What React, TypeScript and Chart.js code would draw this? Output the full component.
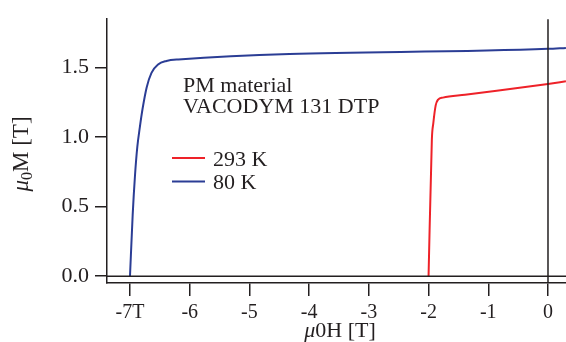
import React, { useEffect, useRef } from "react";
import { Chart, registerables } from "chart.js";

Chart.register(...registerables);

// ---- data ----
const field80 = [-7.0, -6.955, -6.916, -6.877, -6.835, -6.79, -6.72, -6.64, -6.53, -6.39, -6.19, 0.0, 0.3];
const magnet80 = [0.0, 0.44, 0.725, 0.93, 1.07, 1.2, 1.357, 1.46, 1.52, 1.545, 1.556, 1.632, 1.639];
const field293 = [-2.0, -1.945, -1.92, -1.88, -1.84, -1.76, -1.39, 0.0, 0.3];
const magnet293 = [0.0, 0.98, 1.1, 1.228, 1.268, 1.282, 1.303, 1.38, 1.399];

const xTickValues = [-7, -6, -5, -4, -3, -2, -1, 0];
const xTickLabels = ["-7T", "-6", "-5", "-4", "-3", "-2", "-1", "0"];
const yTickValues = [0, 0.5, 1.0, 1.5];
const yTickLabels = ["0.0", "0.5", "1.0", "1.5"];

const seriesNames = ["293 K", "80 K"];
const seriesColors = ["#ee2229", "#2b3d95"];
const annotationLines = ["PM material", "VACODYM 131 DTP"];

const AXIS = "#231f20";
const SERIF = "'Liberation Serif', 'Times New Roman', serif";

type Run = { text: string; font: string; dy?: number };

function drawRuns(ctx: CanvasRenderingContext2D, runs: Run[], cx: number, baseline: number) {
  let total = 0;
  for (const r of runs) {
    ctx.font = r.font;
    total += ctx.measureText(r.text).width;
  }
  let x = cx - total / 2;
  for (const r of runs) {
    ctx.font = r.font;
    ctx.fillText(r.text, x, baseline + (r.dy || 0));
    x += ctx.measureText(r.text).width;
  }
}

const decorations = {
  id: "decorations",
  afterDatasetsDraw(chart: any) {
    const { ctx, chartArea, scales } = chart;
    const xs = scales.x;
    const ys = scales.y;
    ctx.save();
    // zero lines
    ctx.strokeStyle = AXIS;
    ctx.lineWidth = 1.5;
    const y0 = ys.getPixelForValue(0);
    ctx.beginPath();
    ctx.moveTo(chartArea.left, y0);
    ctx.lineTo(chartArea.right, y0);
    ctx.stroke();
    const x0 = xs.getPixelForValue(0);
    ctx.beginPath();
    ctx.moveTo(x0, chartArea.top);
    ctx.lineTo(x0, chartArea.bottom);
    ctx.stroke();

    ctx.fillStyle = AXIS;
    ctx.textAlign = "left";
    ctx.textBaseline = "alphabetic";

    // annotation text
    ctx.font = `22px ${SERIF}`;
    annotationLines.forEach((t, i) => ctx.fillText(t, 183, 92 + i * 21));

    // legend
    chart.data.datasets.forEach((ds: any, i: number) => {
      const yy = 158 + i * 23.5;
      ctx.strokeStyle = ds.borderColor;
      ctx.lineWidth = 2;
      ctx.beginPath();
      ctx.moveTo(172, yy);
      ctx.lineTo(205, yy);
      ctx.stroke();
      ctx.fillStyle = AXIS;
      ctx.font = `22px ${SERIF}`;
      ctx.fillText(ds.label, 213, yy + 7.5);
    });

    // x axis title
    drawRuns(
      ctx,
      [
        { text: "\u03bc", font: `italic 22px ${SERIF}` },
        { text: "0H [T]", font: `22px ${SERIF}` },
      ],
      340,
      337
    );

    // y axis title (rotated)
    ctx.translate(28, 154);
    ctx.rotate(-Math.PI / 2);
    drawRuns(
      ctx,
      [
        { text: "\u03bc", font: `italic 23px ${SERIF}` },
        { text: "0", font: `16px ${SERIF}`, dy: 4 },
        { text: "M [T]", font: `23px ${SERIF}` },
      ],
      0,
      0
    );
    ctx.restore();
  },
};

export default function App() {
  const ref = useRef<HTMLCanvasElement | null>(null);

  useEffect(() => {
    if (!ref.current) return;
    const chart = new Chart(ref.current, {
      type: "line",
      data: {
        datasets: [
          {
            label: seriesNames[0],
            data: field293.map((x, i) => ({ x, y: magnet293[i] })),
            borderColor: seriesColors[0],
            borderWidth: 2,
            pointRadius: 0,
            fill: false,
            cubicInterpolationMode: "monotone",
          },
          {
            label: seriesNames[1],
            data: field80.map((x, i) => ({ x, y: magnet80[i] })),
            borderColor: seriesColors[1],
            borderWidth: 2,
            pointRadius: 0,
            fill: false,
            cubicInterpolationMode: "monotone",
          },
        ],
      },
      options: {
        animation: false,
        responsive: false,
        devicePixelRatio: 1,
        layout: { padding: { top: 14, left: 0, right: 0, bottom: 0 } },
        plugins: { legend: { display: false }, tooltip: { enabled: false } },
        scales: {
          x: {
            type: "linear",
            min: -7.385,
            max: 0.3015,
            afterBuildTicks: (s: any) => {
              s.ticks = xTickValues.map((v) => ({ value: v }));
            },
            afterFit: (s: any) => {
              s.height = 59;
            },
            ticks: {
              autoSkip: false,
              maxRotation: 0,
              padding: 5,
              color: AXIS,
              font: { family: SERIF, size: 20 },
              callback: (v: any) => {
                const i = xTickValues.indexOf(Number(v));
                return i >= 0 ? xTickLabels[i] : "";
              },
            },
            grid: {
              drawOnChartArea: false,
              drawTicks: true,
              tickLength: 13,
              color: AXIS,
              lineWidth: 1.5,
            },
            border: { display: true, color: AXIS, width: 1.5 },
          },
          y: {
            type: "linear",
            min: -0.049,
            max: 1.845,
            afterBuildTicks: (s: any) => {
              s.ticks = yTickValues.map((v) => ({ value: v }));
            },
            afterFit: (s: any) => {
              s.width = 107;
            },
            ticks: {
              autoSkip: false,
              padding: 6,
              color: AXIS,
              font: { family: SERIF, size: 22 },
              callback: (v: any) => {
                const i = yTickValues.indexOf(Number(v));
                return i >= 0 ? yTickLabels[i] : "";
              },
            },
            grid: {
              drawOnChartArea: false,
              drawTicks: true,
              tickLength: 12,
              color: AXIS,
              lineWidth: 1.5,
            },
            border: { display: true, color: AXIS, width: 1.5 },
          },
        },
      },
      plugins: [decorations],
    });
    return () => chart.destroy();
  }, []);

  return (
    <div style={{ position: "absolute", left: 0, top: 0, width: 566, height: 342, background: "#fff" }}>
      <canvas ref={ref} width={566} height={342} style={{ display: "block", width: 566, height: 342 }} />
    </div>
  );
}
